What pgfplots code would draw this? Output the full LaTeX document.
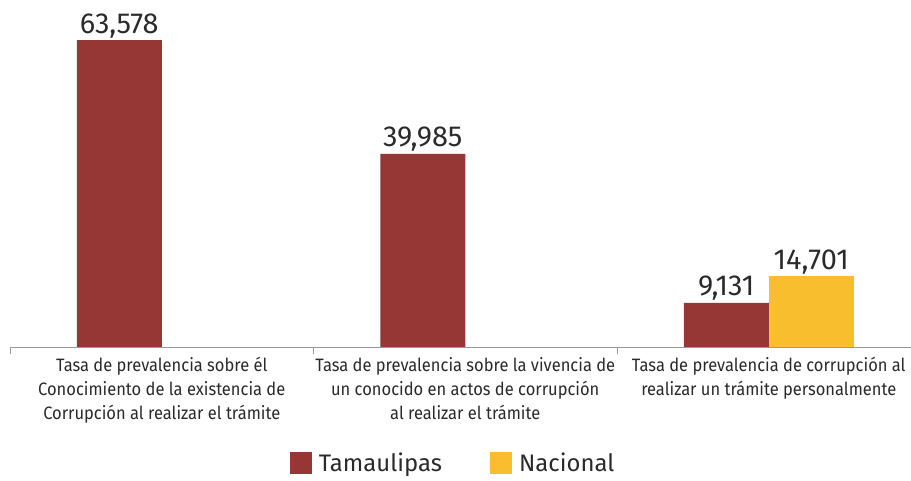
\documentclass[border=0pt]{standalone}
\usepackage{fontspec}
\setmainfont{Fira Sans}
\newfontfamily\condfont{Fira Sans}[FakeStretch=0.92]
\usepackage{pgfplots}
\pgfplotsset{compat=1.18}
\definecolor{tam}{HTML}{963735}
\definecolor{nac}{HTML}{F8BE2E}
\definecolor{txt}{HTML}{2A2A2A}
\definecolor{axisgray}{HTML}{9A9A9A}

\begin{document}
\begin{tikzpicture}
\path[use as bounding box] (0,0) rectangle (911bp,481bp);
\begin{axis}[
  at={(10bp,134bp)}, anchor=south west,
  scale only axis,
  width=910.5bp, height=338bp,
  xmin=-0.5, xmax=2.5,
  ymin=0, ymax=70,
  ybar, bar width=85bp,
  axis y line=none,
  axis x line*=bottom,
  x axis line style={axisgray, line width=0.8pt, -},
  xtick={0,1,2},
  xticklabels={
    {Tasa de prevalencia sobre él\\Conocimiento de la existencia de\\Corrupción al realizar el trámite},
    {Tasa de prevalencia sobre la vivencia de\\un conocido en actos de corrupción\\al realizar el trámite},
    {Tasa de prevalencia de corrupción al\\realizar un trámite personalmente\\\strut}},
  x tick label style={font=\condfont\fontsize{18}{24}\selectfont, text=txt, align=center, anchor=north, yshift=-7bp},
  major tick length=0pt,
  extra x ticks={-0.5,0.5,1.5,2.5},
  extra x tick labels={},
  extra x tick style={major tick length=7bp, tick align=outside, tick style={axisgray, line width=0.8pt}},
  /pgf/number format/assume math mode=true,
  nodes near coords={\pgfmathprintnumber[fixed,precision=3,fixed zerofill,use comma]{\pgfplotspointmeta}},
  every node near coord/.append style={font=\fontsize{29}{30}\selectfont, text=txt, inner sep=1bp, yshift=1bp},
  legend columns=2,
  legend style={at={(0.4866,-0.343)}, anchor=center, draw=none, fill=none,
    font=\fontsize{24}{26}\selectfont, text=txt,
    /tikz/every odd column/.append style={column sep=5bp},
    /tikz/every even column/.append style={column sep=46bp}},
  legend image code/.code={\fill[#1] (0bp,-11bp) rectangle (22bp,11bp);},
]
\addplot[fill=tam, draw=none, bar shift=-42.5bp] coordinates {(0,63.578) (1,39.985) (2,9.131)};
\addplot[fill=nac, draw=none, bar shift=42.5bp] coordinates {(2,14.701)};
\legend{Tamaulipas, Nacional}
\end{axis}
\end{tikzpicture}
\end{document}
